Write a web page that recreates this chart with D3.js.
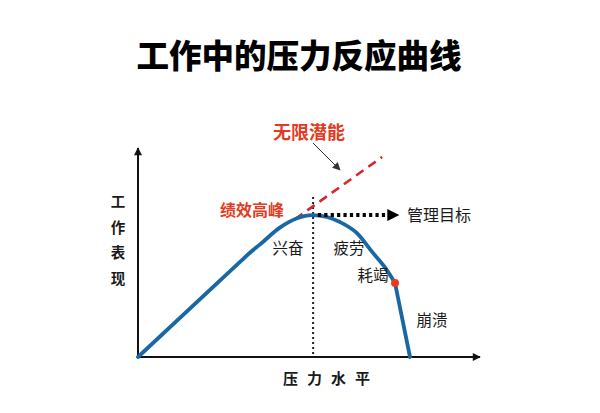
<!DOCTYPE html>
<html><head><meta charset="utf-8">
<script src="https://cdn.jsdelivr.net/npm/d3@7"></script>
<style>
html,body{margin:0;padding:0;background:#fff;}
text{font-family:"Noto Sans CJK SC","Noto Sans",sans-serif;}
</style></head>
<body><svg id="c" width="600" height="413"></svg>
<script>
// ---- data ----
const titleText = "工作中的压力反应曲线";
const xAxisLabel = "压力水平";
const yAxisLabel = ["工","作","表","现"];
// performance curve (pressure, performance) in 0-100 units
const curveX = [0, 30, 33, 36, 41.8, 46.8, 51.2, 55.6, 59.4, 64.4, 69.1, 73.2, 75.6];
const curveY = [0, 45.5, 50, 54, 62.0, 66.4, 67.9, 67.0, 64.6, 59.3, 49.8, 41.6, 35.4];
const fallX = [75.6, 80];
const fallY = [35.4, 0];
const potentialX = [46.2, 71.8];
const potentialY = [66.0, 95.7];
const peakX = 51.5;
const peakLineTop = 76.5;
const targetX = [52.9, 76.5];
const targetY = 67.9;
const breakPoint = [75.6, 35.4];
const stageNames = ["兴奋", "疲劳", "耗竭", "崩溃"];
const redNames = ["绩效高峰", "无限潜能"];
const targetName = "管理目标";

// ---- scales ----
const svg = d3.select("#c");
const x = d3.scaleLinear().domain([0, 100]).range([138, 478]);
const y = d3.scaleLinear().domain([0, 100]).range([357, 148]);
const blue = "#1a68a3", red = "#e23b22", ink = "#1a1a1a";

const defs = svg.append("defs");
function marker(id, color, w, h) {
  defs.append("marker").attr("id", id).attr("viewBox", "0 0 10 10")
    .attr("refX", 9).attr("refY", 5).attr("markerUnits", "userSpaceOnUse")
    .attr("markerWidth", w).attr("markerHeight", h).attr("orient", "auto")
    .append("path").attr("d", "M0,0L10,5L0,10z").attr("fill", color);
}
marker("axArrow", "#111", 9, 8);
marker("tgArrow", "#000", 13, 12);
marker("thinArrow", "#333", 9, 8);

// title
svg.append("text").attr("x", 299).attr("y", 68).attr("text-anchor", "middle")
  .attr("font-size", 32.5).attr("font-weight", 900).attr("fill", "#000").text(titleText);

// axes
svg.append("line").attr("x1", x(0)).attr("y1", y(0)).attr("x2", x(100) + 2).attr("y2", y(0))
  .attr("stroke", "#111").attr("stroke-width", 2).attr("marker-end", "url(#axArrow)");
svg.append("line").attr("x1", x(0)).attr("y1", y(0)).attr("x2", x(0)).attr("y2", y(100))
  .attr("stroke", "#111").attr("stroke-width", 2).attr("marker-end", "url(#axArrow)");

// axis labels
svg.append("text").attr("x", 331).attr("y", 384).attr("text-anchor", "middle")
  .attr("font-size", 15).attr("font-weight", 700).attr("fill", ink).attr("letter-spacing", 9)
  .text(xAxisLabel);
svg.selectAll(".yl").data(yAxisLabel).enter().append("text").attr("class", "yl")
  .attr("x", 118).attr("y", (d, i) => 207 + i * 25.5).attr("text-anchor", "middle")
  .attr("font-size", 14.5).attr("font-weight", 700).attr("fill", ink).text(d => d);

// peak vertical dotted line
svg.append("line").attr("x1", x(peakX)).attr("x2", x(peakX))
  .attr("y1", y(peakLineTop)).attr("y2", y(0))
  .attr("stroke", "#222").attr("stroke-width", 2).attr("stroke-dasharray", "2,3");

// potential dashed line
svg.append("line").attr("x1", x(potentialX[0])).attr("y1", y(potentialY[0]))
  .attr("x2", x(potentialX[1])).attr("y2", y(potentialY[1]))
  .attr("stroke", "#d8262c").attr("stroke-width", 2.6).attr("stroke-dasharray", "9,6");

// curve
const lin = d3.line().x(d => x(d[0])).y(d => y(d[1]));
const smooth = d3.line().x(d => x(d[0])).y(d => y(d[1])).curve(d3.curveMonotoneX);
const g = svg.append("g").attr("fill", "none").attr("stroke", blue).attr("stroke-width", 3.8)
  .attr("stroke-linecap", "round").attr("stroke-linejoin", "round");
g.append("path").attr("d", smooth(d3.zip(curveX, curveY)));
g.append("path").attr("d", lin(d3.zip(fallX, fallY)));

// target arrow (dotted)
svg.append("line").attr("x1", x(targetX[0])).attr("y1", y(targetY))
  .attr("x2", x(targetX[1]) - 8).attr("y2", y(targetY))
  .attr("stroke", "#000").attr("stroke-width", 4).attr("stroke-dasharray", "3.2,3.2");
svg.append("line").attr("x1", x(targetX[1]) - 10).attr("y1", y(targetY))
  .attr("x2", x(targetX[1])).attr("y2", y(targetY))
  .attr("stroke", "#000").attr("stroke-width", 1).attr("marker-end", "url(#tgArrow)");

// break point
svg.append("circle").attr("cx", x(breakPoint[0])).attr("cy", y(breakPoint[1])).attr("r", 4)
  .attr("fill", "#ee3a1c");

// thin pointer arrow
svg.append("line").attr("x1", 313).attr("y1", 143).attr("x2", 340).attr("y2", 170)
  .attr("stroke", "#333").attr("stroke-width", 1).attr("marker-end", "url(#thinArrow)");

// labels
const stagePos = [[288, 254], [349, 254], [373, 281], [432, 326]];
svg.selectAll(".st").data(stageNames).enter().append("text").attr("class", "st")
  .attr("x", (d, i) => stagePos[i][0]).attr("y", (d, i) => stagePos[i][1])
  .attr("text-anchor", "middle").attr("font-size", 15.5).attr("fill", ink).text(d => d);
const redPos = [[252, 216], [309, 139]];
const redSize = [16, 18];
svg.selectAll(".rd").data(redNames).enter().append("text").attr("class", "rd")
  .attr("x", (d, i) => redPos[i][0]).attr("y", (d, i) => redPos[i][1])
  .attr("text-anchor", "middle").attr("font-size", (d, i) => redSize[i])
  .attr("font-weight", 700).attr("fill", red).text(d => d);
svg.append("text").attr("x", 407).attr("y", 221).attr("font-size", 16)
  .attr("fill", ink).text(targetName);
</script></body></html>
